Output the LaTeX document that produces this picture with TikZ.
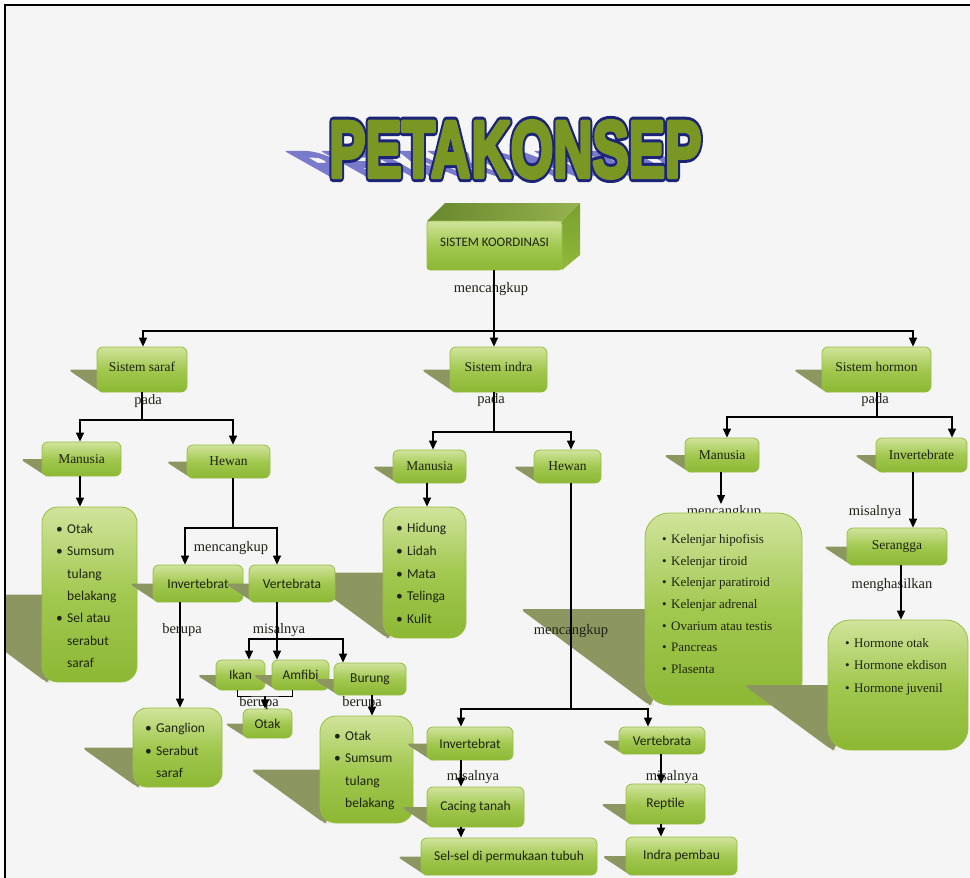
\documentclass[tikz,border=0pt]{standalone}
\usepackage{fontspec}
\usepackage{graphicx}
\setmainfont{Liberation Serif}
\newfontfamily\boxsans{Carlito}
\newfontfamily\titleout{Liberation Sans Bold}[FakeBold=13]
\newfontfamily\titlefill{Liberation Sans Bold}[FakeBold=5.5]
\newfontfamily\titleshd{Liberation Sans Bold}[FakeBold=8]
\usetikzlibrary{arrows.meta}
\definecolor{bgc}{RGB}{246,245,245}
\definecolor{shc}{RGB}{139,150,96}
\definecolor{gtop}{RGB}{208,228,155}
\definecolor{gmid}{RGB}{162,200,80}
\definecolor{gbot}{RGB}{140,184,52}
\definecolor{gline}{RGB}{150,190,70}
\definecolor{txt}{RGB}{30,35,20}
\definecolor{tgreen}{RGB}{122,150,35}
\definecolor{tnavy}{RGB}{28,36,120}
\definecolor{tshadow}{RGB}{122,122,205}
\definecolor{sktopa}{RGB}{105,135,45}
\definecolor{sktopb}{RGB}{150,178,80}
\definecolor{sksidea}{RGB}{120,160,45}
\definecolor{sksideb}{RGB}{145,185,60}
\newcommand\ttl[1]{\pgfsetroundjoin\scalebox{0.68}[1]{#1\fontsize{80}{80}\selectfont PETA\kern2pt KONSEP}}
\newcommand\upt[1]{\raisebox{3pt}[\height][\depth]{#1}}
\newcommand\bsa{\makebox[11pt][l]{\textbullet}}
\newcommand\nsa{\hspace*{11pt}}
\newcommand\bse{\makebox[9pt][l]{\textbullet}}
\tikzset{
  gbox/.style={draw=gline, line width=0.8pt, rounded corners=6pt, top color=gtop, bottom color=gbot, middle color=gmid, inner sep=0pt, text=txt},
  srf/.style={font=\fontsize{13.5}{16}\selectfont},
  sns/.style={font=\boxsans\fontsize{13.5}{16}\selectfont},
  lbl/.style={font=\fontsize{14.5}{16}\selectfont, text=txt, inner sep=0pt},
  lsans/.style={anchor=north west, inner sep=0pt, align=left, text=txt, font=\boxsans\fontsize{13.5}{22.3}\selectfont},
  conn/.style={line width=1.3pt, draw=black},
  arr/.style={conn, -{Triangle[length=9pt,width=8pt]}},
  ttlnode/.style={anchor=base west, inner sep=0pt, line join=round},
}
\newcommand\gbx[7]{%
  \fill[shc, rounded corners=5pt] ({#2-0.65*(#5-#3)},{(#3+#5)/2}) -- ({#2+8},{(#3+#5)/2}) -- ({#2+8},#5) -- ({#2+4},#5) -- cycle;
  \node[gbox, minimum width={#4-#2}, minimum height={#5-#3}, #6] (#1) at ({(#2+#4)/2},{(#3+#5)/2}) {#7};
}
\begin{document}
\begin{tikzpicture}[x=1pt,y=-1pt]
\useasboundingbox (0,0) rectangle (970,878);
\fill[white] (0,0) rectangle (970,878);
\fill[bgc] (5,5) rectangle (970,878);
\begin{scope}
\clip (5,5) rectangle (970,878);
% title
\begin{scope}[shift={(329,177)}]
  \node[ttlnode, text=tshadow, transform shape, cm={1,0,-0.8,0.45,(0,0)}] (tshadow) at (0,0) {\ttl{\titleshd}};
  \node[ttlnode, text=tnavy] (toutline) at (0,0) {\ttl{\titleout}};
  \node[ttlnode, text=tgreen] (tfill) at (0,0) {\ttl{\titlefill}};
\end{scope}
% 3D box
\shade[left color=sktopa, right color=sktopb] (427,221) -- (445,203) -- (580,203) -- (562,221) -- cycle;
\shade[top color=sksidea, bottom color=sksideb] (562,221) -- (580,203) -- (580,255) -- (562,270) -- cycle;
\node[gbox, rounded corners=3pt, minimum width=135, minimum height=49, font=\boxsans\fontsize{13}{16}\selectfont] (sk) at (494.5,245.5) {\upt{SISTEM KOORDINASI}};
% boxes
\gbx{saraf}{97}{347}{187}{392}{srf}{\upt{Sistem saraf}}
\gbx{indra}{450}{347}{547}{392}{srf}{\upt{Sistem indra}}
\gbx{hormon}{822}{347}{931}{392}{srf}{\upt{Sistem hormon}}
\gbx{manusiaL}{42}{442}{121}{476}{srf}{Manusia}
\gbx{hewanL}{187}{445}{270}{478}{srf}{Hewan}
\gbx{manusiaM}{393}{450}{466}{483}{srf}{Manusia}
\gbx{hewanM}{534}{450}{601}{483}{srf}{Hewan}
\gbx{manusiaR}{685}{438}{759}{472}{srf}{Manusia}
\gbx{invR}{876}{438}{967}{472}{srf}{Invertebrate}
\gbx{listL}{42}{507}{137}{682}{rounded corners=16pt}{}
\node[lsans] (listLt) at (56,524) {\bsa Otak\\ \bsa Sumsum\\ \nsa tulang\\ \nsa belakang\\ \bsa Sel atau\\ \nsa serabut\\ \nsa saraf};
\gbx{hidung}{383}{507}{466}{638}{rounded corners=16pt}{}
\node[lsans, font=\boxsans\fontsize{13.5}{22.75}\selectfont] (hidungt) at (396,523) {\bsa Hidung\\ \bsa Lidah\\ \bsa Mata\\ \bsa Telinga\\ \bsa Kulit};
\gbx{invL}{153}{565}{243}{602}{sns}{Invertebrat}
\gbx{vertL}{249}{565}{335}{602}{sns}{Vertebrata}
\gbx{serangga}{847}{528}{947}{565}{srf}{Serangga}
\node[lbl] (lmenc4) at (724,512) {mencangkup};
\gbx{kelenjar}{645}{513}{802}{705}{rounded corners=24pt}{}
\node[lsans, font=\fontsize{13}{21.7}\selectfont] (kelenjart) at (662,534) {\bse Kelenjar hipofisis\\ \bse Kelenjar tiroid\\ \bse Kelenjar paratiroid\\ \bse Kelenjar adrenal\\ \bse Ovarium atau testis\\ \bse Pancreas\\ \bse Plasenta};
\gbx{hormL}{828}{620}{968}{750}{rounded corners=22pt}{}
\node[lsans, font=\fontsize{13}{22.5}\selectfont] (hormLt) at (845,638) {\bse Hormone otak\\ \bse Hormone ekdison\\ \bse Hormone juvenil};
\gbx{ikan}{216}{660}{265}{690}{sns}{Ikan}
\gbx{amfibi}{272}{660}{329}{690}{sns}{Amfibi}
\gbx{burung}{334}{663}{406}{695}{sns}{Burung}
\gbx{otakS}{243}{709}{292}{738}{sns}{Otak}
\gbx{gangl}{133}{708}{222}{787}{rounded corners=14pt}{}
\node[lsans, font=\boxsans\fontsize{13.5}{22.5}\selectfont] (ganglt) at (145,723) {\bsa Ganglion\\ \bsa Serabut\\ \nsa saraf};
\gbx{otakL}{320}{716}{413}{823}{rounded corners=16pt}{}
\node[lsans] (otakLt) at (334,731) {\bsa Otak\\ \bsa Sumsum\\ \nsa tulang\\ \nsa belakang};
\gbx{invB}{427}{727}{513}{760}{sns}{Invertebrat}
\gbx{vertB}{619}{727}{705}{754}{sns}{Vertebrata}
\gbx{cacing}{427}{787}{524}{827}{sns}{Cacing tanah}
\gbx{reptile}{626}{784}{705}{824}{sns}{Reptile}
\gbx{selsel}{421}{838}{597}{875}{sns}{Sel-sel di permukaan tubuh}
\gbx{pembau}{626}{837}{737}{875}{sns}{Indra pembau}
% labels
\node[lbl] (lmenc1) at (491,289) {mencangkup};
\node[lbl] (lpada1) at (148,401) {pada};
\node[lbl] (lmenc2) at (231,548) {mencangkup};
\node[lbl] (lber1) at (182,630) {berupa};
\node[lbl] (lmis1) at (279,630) {misalnya};
\node[lbl] (lber2) at (259,703) {berupa};
\node[lbl] (lber3) at (362,703) {berupa};
\node[lbl] (lpada2) at (491,400) {pada};
\node[lbl] (lmenc3) at (571,631) {mencangkup};
\node[lbl] (lmis2) at (473,777) {misalnya};
\node[lbl] (lmis3) at (672,777) {misalnya};
\node[lbl] (lpada3) at (875,400) {pada};
\node[lbl] (lmis4) at (875,512) {misalnya};
\node[lbl] (lmengh) at (892,585) {menghasilkan};
% connectors
\coordinate (j1) at (494,331);
\draw[conn] (sk.south -| 494,0) -- (j1);
\draw[arr] (j1) -| (saraf.north -| 143,0);
\draw[arr] (j1) -- (indra.north -| 494,0);
\draw[arr] (j1) -| (hormon.north -| 913,0);
\coordinate (j2) at (142,420);
\draw[conn] (saraf.south -| 142,0) -- (j2);
\draw[arr] (j2) -| (manusiaL.north -| 80,0);
\draw[arr] (j2) -| (hewanL.north -| 233,0);
\draw[arr] (manusiaL.south -| 80,0) -- (listL.north -| 80,0);
\coordinate (j3) at (233,528);
\draw[conn] (hewanL.south -| 233,0) -- (j3);
\draw[arr] (j3) -| (invL.north -| 185,0);
\draw[arr] (j3) -| (vertL.north -| 277,0);
\draw[arr] (invL.south -| 180,0) -- (gangl.north -| 180,0);
\draw[arr] (vertL.south -| 277,0) -- (amfibi.north -| 277,0);
\coordinate (j4) at (277,639);
\draw[arr] (j4) -| (ikan.north -| 249,0);
\draw[arr] (j4) -| (burung.north -| 343,0);
\coordinate (j5) at (265,696);
\draw[line width=1pt] (ikan.south -| 237,0) |- (j5) -| (amfibi.south -| 292,0);
\draw[arr] (j5) -- (otakS.north -| 265,0);
\draw[arr] (burung.south -| 372,0) -- (otakL.north -| 372,0);
\coordinate (j6) at (494,432);
\draw[conn] (indra.south -| 494,0) -- (j6);
\draw[arr] (j6) -| (manusiaM.north -| 433,0);
\draw[arr] (j6) -| (hewanM.north -| 571,0);
\draw[arr] (manusiaM.south -| 427,0) -- (hidung.north -| 427,0);
\coordinate (j7) at (571,709);
\draw[conn] (hewanM.south -| 571,0) -- (j7);
\draw[arr] (j7) -| (invB.north -| 461,0);
\draw[arr] (j7) -| (vertB.north -| 648,0);
\draw[arr] (invB.south -| 461,0) -- (cacing.north -| 461,0);
\draw[arr] (cacing.south -| 461,0) -- (selsel.north -| 461,0);
\draw[arr] (vertB.south -| 661,0) -- (reptile.north -| 661,0);
\draw[arr] (reptile.south -| 661,0) -- (pembau.north -| 661,0);
\coordinate (j8) at (877,417);
\draw[conn] (hormon.south -| 877,0) -- (j8);
\draw[arr] (j8) -| (manusiaR.north -| 727,0);
\draw[arr] (j8) -| (invR.north -| 952,0);
\coordinate (kend) at (721,504);
\draw[arr] (manusiaR.south -| 721,0) -- (kend);
\draw[arr] (invR.south -| 913,0) -- (serangga.north -| 913,0);
\draw[arr] (serangga.south -| 901,0) -- (hormL.north -| 901,0);
\end{scope}
\draw[line width=2pt] (5,878) -- (5,5) -- (970,5);
\end{tikzpicture}
\end{document}
